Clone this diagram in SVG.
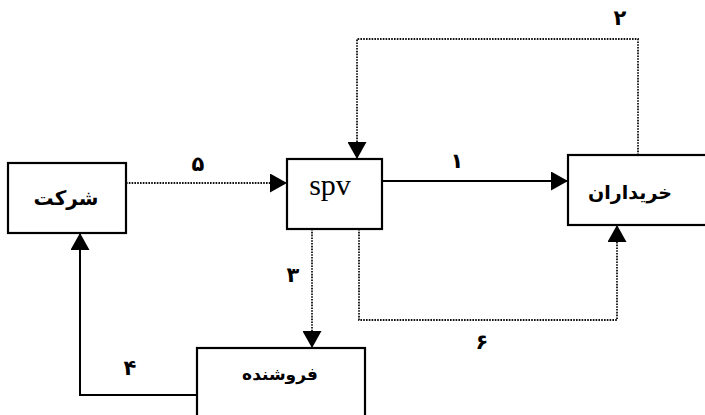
<svg xmlns="http://www.w3.org/2000/svg" width="705" height="415" viewBox="0 0 705 415">
<defs>
<marker id="ah" markerUnits="userSpaceOnUse" markerWidth="18" markerHeight="19" viewBox="0 0 17 19" refX="17" refY="9.5" orient="auto">
<path d="M0,0 L17,9.5 L0,19 Z" fill="#000"/>
</marker>
</defs>
<style>
.box{fill:#fff;stroke:#000;stroke-width:2.2}
.solid{fill:none;stroke:#000;stroke-width:2}
.dot{fill:none;stroke:#111;stroke-width:1.8;stroke-dasharray:1.6 1.2}
.fa{font-family:"DejaVu Sans",sans-serif;font-weight:bold;fill:#000;text-anchor:middle}
.lbl{font-family:"DejaVu Sans",sans-serif;font-weight:bold;fill:#000;text-anchor:middle;font-size:21px}
.en{font-family:"Liberation Serif",serif;fill:#000;text-anchor:middle;font-size:30px}
</style>
<g id="connectors">
<path class="solid" d="M382,181 L568,181" marker-end="url(#ah)"/>
<path class="dot" d="M638,155 L638,39 L357,39 L357,159" marker-end="url(#ah)"/>
<path class="dot" d="M312,229 L312,348" marker-end="url(#ah)"/>
<path class="solid" d="M197,395 L80,395 L80,233" marker-end="url(#ah)"/>
<path class="dot" d="M126,183 L287,183" marker-end="url(#ah)"/>
<path class="dot" d="M359,229 L359,320 L617,320 L617,225" marker-end="url(#ah)"/>
<text class="lbl" x="457" y="168">۱</text>
<text class="lbl" x="620" y="25">۲</text>
<text class="lbl" x="293" y="282">۳</text>
<text class="lbl" x="130" y="375">۴</text>
<text class="lbl" x="198" y="171">۵</text>
<text class="lbl" x="482" y="349">۶</text>
</g>
<g id="node-sherkat">
<rect class="box" x="8" y="163" width="118" height="70"/>
<text class="fa" x="66" y="205" font-size="20">شرکت</text>
</g>
<g id="node-spv">
<rect class="box" x="287" y="159" width="95" height="70"/>
<text class="en" x="330" y="195">spv</text>
</g>
<g id="node-kharidaran">
<rect class="box" x="568" y="155" width="150" height="70"/>
<text class="fa" x="630" y="199" font-size="19">خریداران</text>
</g>
<g id="node-forushande">
<rect class="box" x="197" y="348" width="168" height="80"/>
<text class="fa" x="280" y="380" font-size="17">فروشنده</text>
</g>
</svg>
